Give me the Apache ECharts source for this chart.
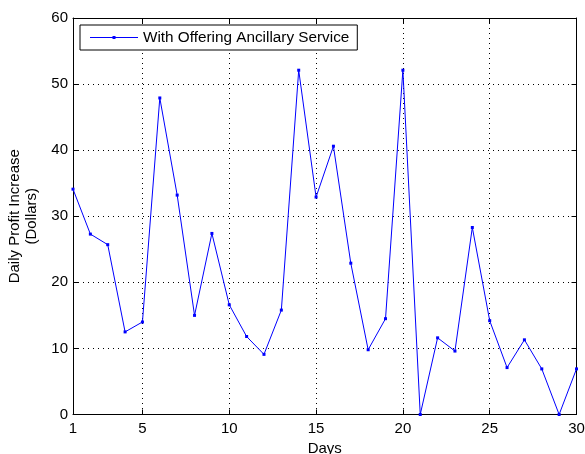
<!DOCTYPE html>
<html><head><meta charset="utf-8">
<script src="https://cdn.jsdelivr.net/npm/echarts@6/dist/echarts.min.js"></script>
<style>html,body{margin:0;padding:0;background:#fff}#c{width:585px;height:454px}</style>
</head><body><div id="c"></div>
<script>
const days = [1,2,3,4,5,6,7,8,9,10,11,12,13,14,15,16,17,18,19,20,21,22,23,24,25,26,27,28,29,30];
const profit = [34.1,27.3,25.7,12.5,14.0,47.9,33.2,15.0,27.4,16.6,11.8,9.1,15.8,52.1,32.9,40.6,22.9,9.8,14.5,52.1,0,11.6,9.6,28.3,14.2,7.1,11.3,6.9,0,6.9];
const xTicks = [1,5,10,15,20,25,30];
const seriesName = 'With Offering Ancillary Service';

const font = 'Liberation Sans, Arial, Helvetica, sans-serif';
const chart = echarts.init(document.getElementById('c'));
const gridDot = {show:true, lineStyle:{color:'#000', type:[1,4], width:1}};
chart.setOption({
  animation:false,
  backgroundColor:'#fff',
  grid:{left:73, right:8.5, top:18, bottom:39.5, containLabel:false, outerBoundsMode:'none'},
  legend:{
    left:80, top:25, width:274,
    data:[seriesName], itemWidth:48, itemHeight:3, itemGap:4,
    padding:[4,8,4,10],
    borderColor:'#000', borderWidth:1, backgroundColor:'#fff',
    textStyle:{fontFamily:font, fontSize:15.3, color:'#000', lineHeight:17},
    icon:'path://M0,1 L48,1 L48,2 L0,2 Z M22.5,0 L25.5,0 L25.5,3 L22.5,3 Z',
    itemStyle:{color:'#0000ff'}
  },
  xAxis:[{
    type:'value', min:1, max:30, position:'bottom',
    name:'Days', nameLocation:'middle', nameGap:23,
    nameTextStyle:{fontFamily:font, fontSize:15, color:'#000'},
    axisLine:{show:true, onZero:false, lineStyle:{color:'#000', width:1}},
    axisTick:{show:true, inside:true, length:5, customValues:xTicks, lineStyle:{color:'#000'}},
    axisLabel:{show:true, customValues:xTicks, fontFamily:font, fontSize:15, color:'#000', margin:7},
    splitLine:gridDot
  },{
    type:'value', min:1, max:30, position:'top',
    axisLine:{show:true, onZero:false, lineStyle:{color:'#000', width:1}},
    axisTick:{show:true, inside:true, length:5, customValues:xTicks, lineStyle:{color:'#000'}},
    axisLabel:{show:false}, splitLine:{show:false}
  }],
  yAxis:[{
    type:'value', min:0, max:60, interval:10, position:'left',
    name:'Daily Profit Increase\n(Dollars)', nameLocation:'middle', nameGap:28,
    nameTextStyle:{fontFamily:font, fontSize:15, color:'#000', lineHeight:17},
    axisLine:{show:true, onZero:false, lineStyle:{color:'#000', width:1}},
    axisTick:{show:true, inside:true, length:5, lineStyle:{color:'#000'}},
    axisLabel:{fontFamily:font, fontSize:15, color:'#000', margin:5},
    splitLine:gridDot
  },{
    type:'value', min:0, max:60, interval:10, position:'right',
    axisLine:{show:true, onZero:false, lineStyle:{color:'#000', width:1}},
    axisTick:{show:true, inside:true, length:5, lineStyle:{color:'#000'}},
    axisLabel:{show:false}, splitLine:{show:false}
  }],
  series:[{
    name:seriesName, type:'line',
    data:days.map((d,i)=>[d, profit[i]]),
    lineStyle:{color:'#0000ff', width:1},
    itemStyle:{color:'#0000ff'},
    symbol:'rect', symbolSize:3, showSymbol:true,
    clip:false
  }]
});
</script></body></html>
